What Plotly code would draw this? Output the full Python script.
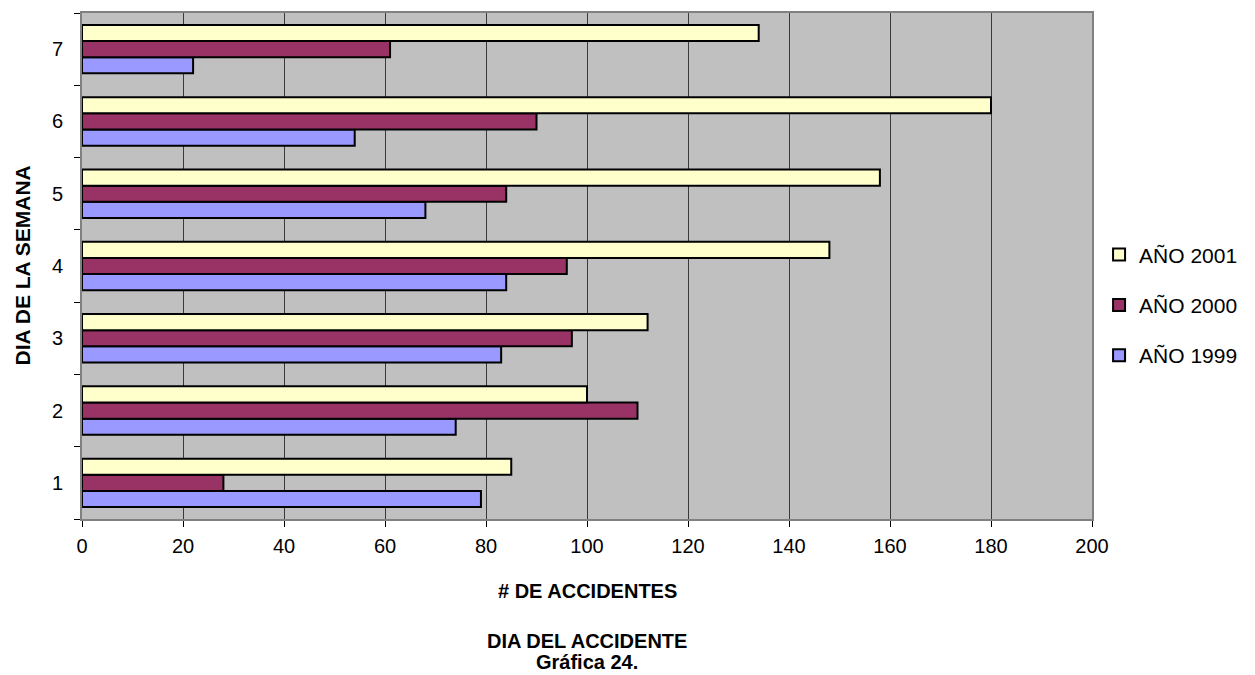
import plotly.graph_objects as go

dias = ["1", "2", "3", "4", "5", "6", "7"]
anio_1999 = [79, 74, 83, 84, 68, 54, 22]
anio_2000 = [28, 110, 97, 96, 84, 90, 61]
anio_2001 = [85, 100, 112, 148, 158, 180, 134]
series_names = ["AÑO 1999", "AÑO 2000", "AÑO 2001"]
series_colors = ["#9999FF", "#993366", "#FFFFCC"]
legend_ranks = [3, 2, 1]
x_ticks = [0, 20, 40, 60, 80, 100, 120, 140, 160, 180, 200]

FONT = "Liberation Sans, Arial, sans-serif"

fig = go.Figure()
for name, vals, col, rk in zip(series_names, [anio_1999, anio_2000, anio_2001],
                               series_colors, legend_ranks):
    fig.add_trace(go.Bar(
        y=dias, x=vals, name=name, orientation="h",
        marker=dict(color=col, line=dict(color="black", width=2)),
        legendgroup=name, legendrank=rk,
    ))

fig.update_layout(
    width=1255, height=675,
    margin=dict(l=82, r=163, t=13, b=156, autoexpand=False),
    paper_bgcolor="white", plot_bgcolor="#C0C0C0",
    barmode="group", bargap=0.33, bargroupgap=0,
    font=dict(family=FONT, size=20, color="black"),
    showlegend=True,
    legend=dict(
        x=1.007, xanchor="left", y=0.423, yanchor="middle",
        traceorder="grouped", tracegroupgap=20,
        font=dict(size=21, family=FONT),
        itemwidth=30, bgcolor="rgba(0,0,0,0)",
    ),
    xaxis=dict(
        range=[0, 200], tickvals=x_ticks, ticktext=[str(v) for v in x_ticks],
        showgrid=True, gridcolor="#3a3a3a", gridwidth=1,
        showline=True, linecolor="#808080", linewidth=2, mirror=True,
        ticks="outside", ticklen=6, tickcolor="black", tickwidth=1,
        ticklabelstandoff=2, zeroline=False,
        tickfont=dict(size=20),
    ),
    yaxis=dict(
        type="category", range=[-0.5, 6.5],
        showgrid=False,
        showline=True, linecolor="#808080", linewidth=2, mirror=True,
        ticks="outside", ticklen=6, tickcolor="black", tickwidth=1,
        tickson="boundaries", ticklabelstandoff=13,
        tickfont=dict(size=20),
    ),
    annotations=[
        dict(text="<b># DE ACCIDENTES</b>", xref="paper", yref="paper",
             x=0.5, y=(519 - 591) / 506, yanchor="middle", showarrow=False,
             font=dict(size=20, family=FONT)),
        dict(text="<b>DIA DEL ACCIDENTE</b>", xref="paper", yref="paper",
             x=0.5, y=(519 - 641) / 506, yanchor="middle", showarrow=False,
             font=dict(size=20, family=FONT)),
        dict(text="<b>Gráfica 24.</b>", xref="paper", yref="paper",
             x=0.5, y=(519 - 662) / 506, yanchor="middle", showarrow=False,
             font=dict(size=20, family=FONT)),
        dict(text="<b>DIA DE LA SEMANA</b>", xref="paper", yref="paper",
             x=(21.5 - 82) / 1010, xanchor="center", y=(519 - 266) / 506, yanchor="middle",
             textangle=-90, showarrow=False,
             font=dict(size=21, family=FONT)),
    ],
)

fig.write_html("out.html", config={"displayModeBar": False})

with open("out.html", "r", encoding="utf-8") as f:
    html = f.read()
html = html.replace("<body>", '<body style="margin:0;padding:0;">', 1)
with open("out.html", "w", encoding="utf-8") as f:
    f.write(html)
